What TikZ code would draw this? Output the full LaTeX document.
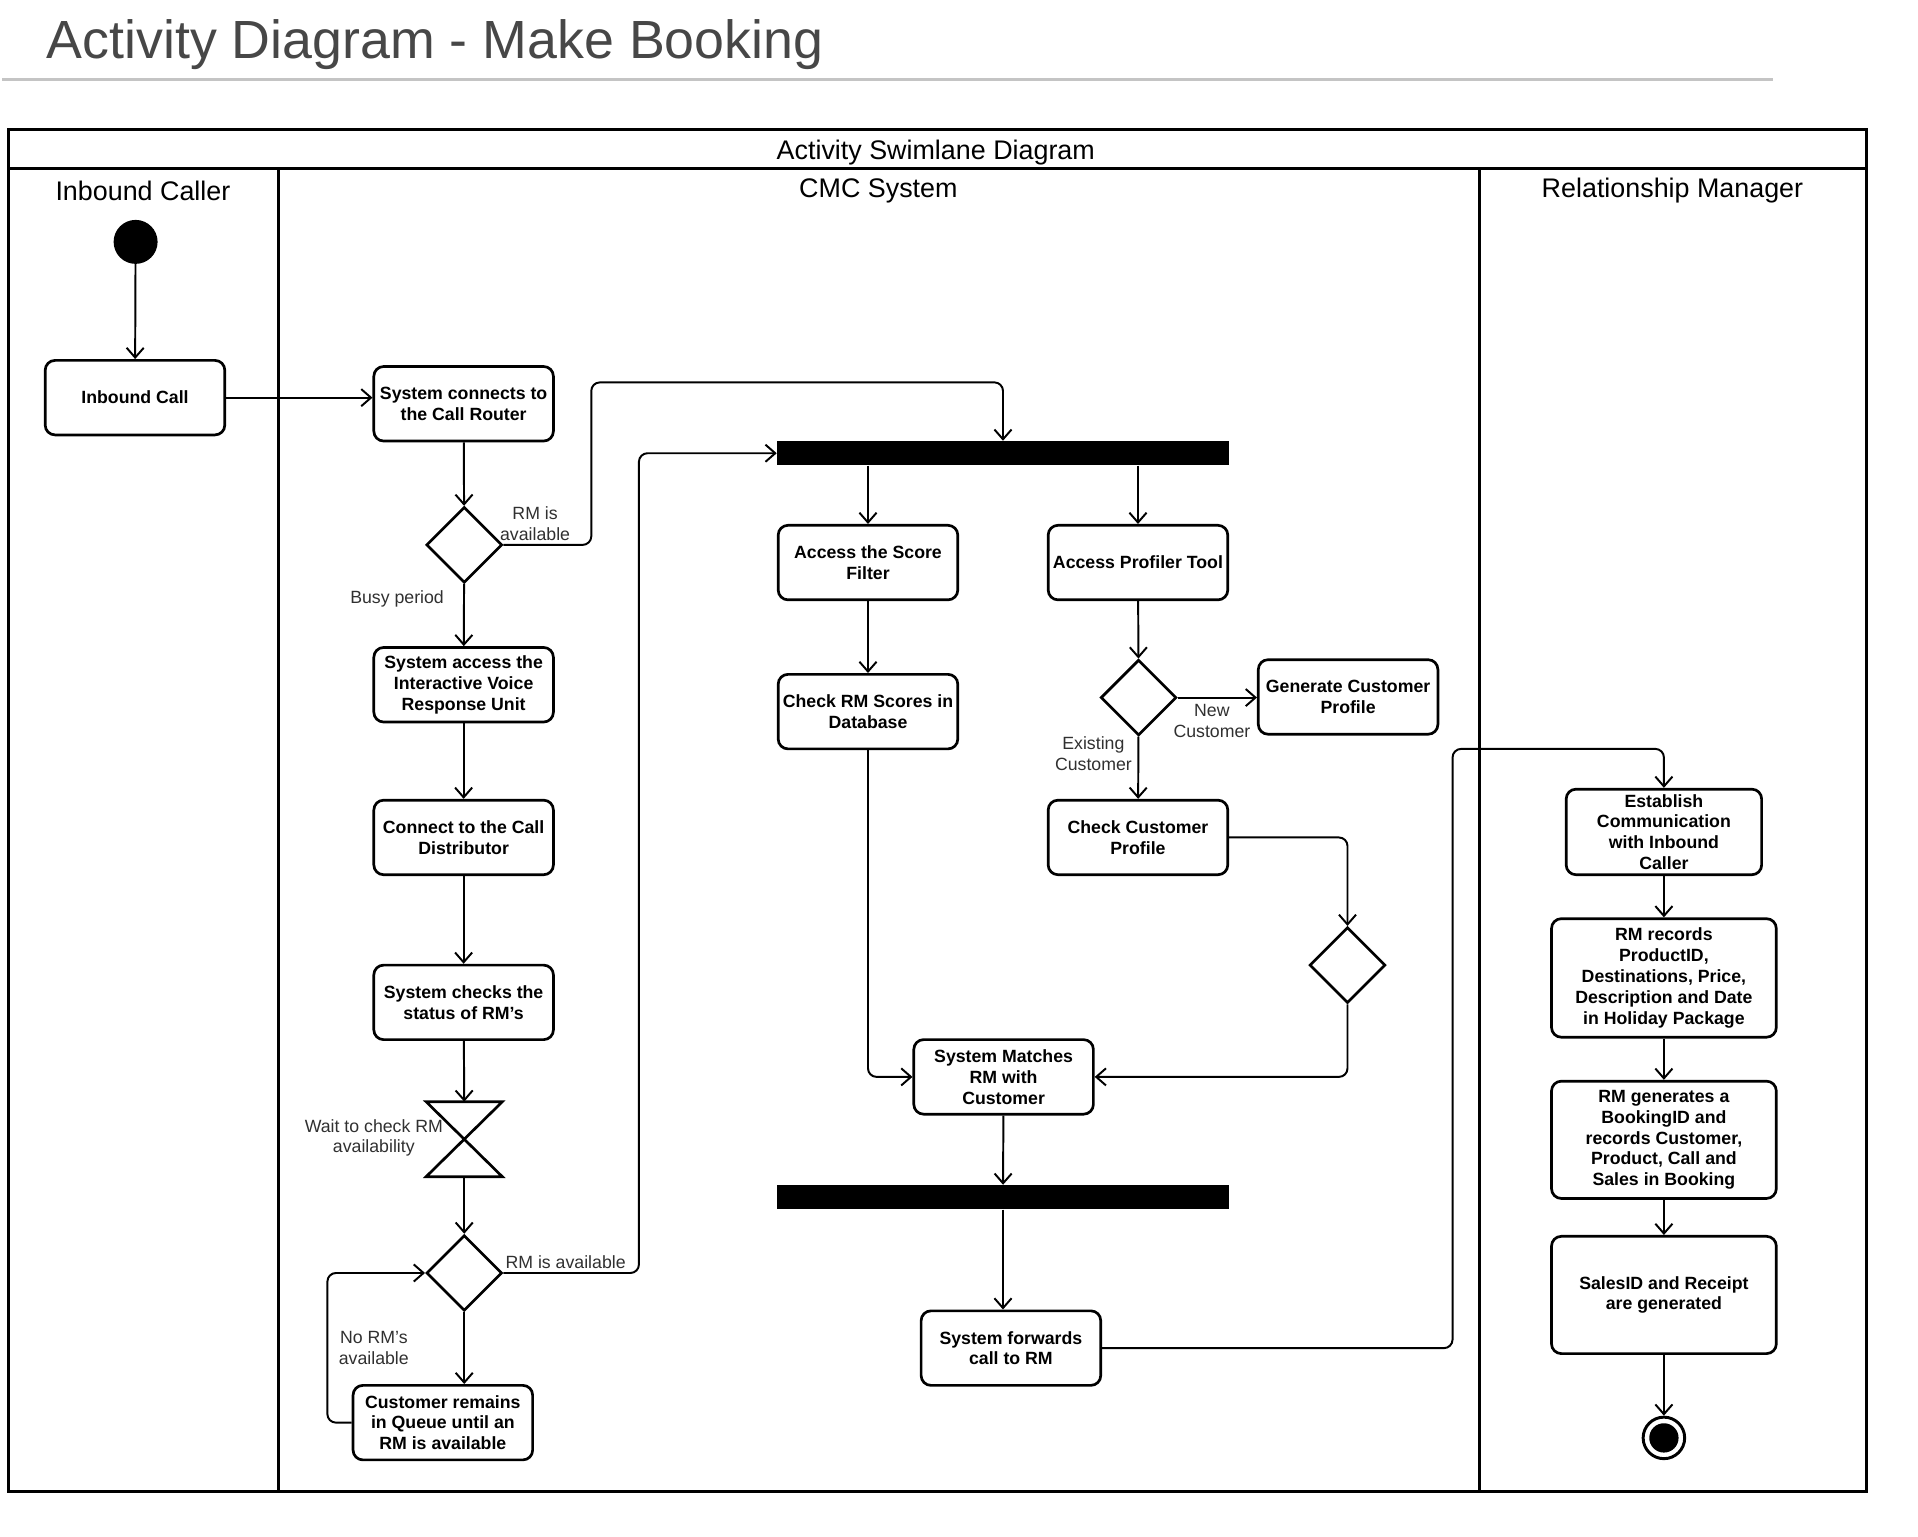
\documentclass[tikz,border=0pt]{standalone}
\usepackage{fontspec}
\setmainfont{Liberation Sans}
\usetikzlibrary{arrows.meta,shapes.geometric}
\newcommand\boxfnt{\fontsize{14.5}{17}\selectfont\bfseries}
\newcommand\lblfnt{\fontsize{14.5}{17}\selectfont}
\newcommand\hdrfnt{\fontsize{22}{26}\selectfont}
\definecolor{titlegray}{HTML}{474747}
\definecolor{rulegray}{HTML}{C4C4C4}
\definecolor{lblgray}{HTML}{303030}
\begin{document}
\begin{tikzpicture}[x=1pt,y=-1pt,
  actbox/.style={draw, line width=2.2pt, rounded corners=8pt, font=\boxfnt, align=center, inner sep=0pt, fill=white},
  decis/.style={draw, diamond, line width=2.2pt, minimum width=62pt, minimum height=62pt, inner sep=0pt},
  syncbar/.style={fill=black, draw=none, minimum width=370pt, minimum height=20pt, inner sep=0pt},
  conn/.style={draw, line width=1.6pt, rounded corners=7pt, -{Straight Barb[length=8pt,width=14pt]}},
  lbl/.style={font=\lblfnt, text=lblgray, align=center, inner sep=0pt},
  hdr/.style={font=\hdrfnt, inner sep=0pt},
  frame/.style={line width=2.2pt}
]
\useasboundingbox (0,0) rectangle (1570,1258);

% title
\node[anchor=base west, font=\fontsize{44}{50}\selectfont, text=titlegray, inner sep=0pt] (title) at (38,47.5) {Activity Diagram - Make Booking};
\draw[rulegray, line width=2.5pt] (2,65) -- (1451,65);

% swimlane frame
\draw[frame] (7,106) rectangle (1528,1221);
\draw[frame] (7,138) -- (1528,138);
\draw[frame] (228,138) -- (228,1221);
\draw[frame] (1211,138) -- (1211,1221);
\node[hdr] (hmain) at (766,125) {Activity Swimlane Diagram};
\node[hdr] (hic) at (117,156) {Inbound Caller};
\node[hdr] (hcmc) at (719,156) {CMC System};
\node[hdr] (hrm) at (1369,156) {Relationship Manager};

% Inbound caller lane
\node[circle, fill=black, minimum size=36pt, inner sep=0pt] (start) at (111,198) {};
\node[actbox, minimum width=147pt, minimum height=61pt] (inbound) at (110.5,325.5) {Inbound Call};

% CMC lane left column
\node[actbox, minimum width=147pt, minimum height=61pt] (router) at (379.5,330.5) {System connects to\\the Call Router};
\node[decis] (d1) at (380,446) {};
\node[actbox, minimum width=147pt, minimum height=61pt] (ivr) at (379.5,560.5) {System access the\\Interactive Voice\\Response Unit};
\node[actbox, minimum width=147pt, minimum height=61pt] (dist) at (379.5,685.5) {Connect to the Call\\Distributor};
\node[actbox, minimum width=147pt, minimum height=61pt] (status) at (379.5,820.5) {System checks the\\status of RM's};
\node[minimum width=62pt, minimum height=61pt, inner sep=0pt] (hg) at (380,932.5) {};
\draw[line width=2.2pt, line join=miter] (hg.north west) -- (hg.north east) -- (hg.south west) -- (hg.south east) -- cycle;
\node[decis] (d2) at (380,1042) {};
\node[actbox, minimum width=147pt, minimum height=61pt] (queue) at (362.5,1164.5) {Customer remains\\in Queue until an\\RM is available};

% CMC lane middle
\node[syncbar] (bar1) at (821,371) {};
\node[actbox, minimum width=147pt, minimum height=61pt] (score) at (710.5,460.5) {Access the Score\\Filter};
\node[actbox, minimum width=147pt, minimum height=61pt] (profiler) at (931.5,460.5) {Access Profiler Tool};
\node[actbox, minimum width=147pt, minimum height=61pt] (rmscores) at (710.5,582.5) {Check RM Scores in\\Database};
\node[decis] (d3) at (932,571) {};
\node[actbox, minimum width=147pt, minimum height=61pt] (genprof) at (1103.5,570.5) {Generate Customer\\Profile};
\node[actbox, minimum width=147pt, minimum height=61pt] (ccp) at (931.5,685.5) {Check Customer\\Profile};
\node[decis] (d4) at (1103,790) {};
\node[actbox, minimum width=147pt, minimum height=61pt] (match) at (821.5,881.5) {System Matches\\RM with\\Customer};
\node[syncbar] (bar2) at (821,980) {};
\node[actbox, minimum width=147pt, minimum height=61pt] (fwd) at (827.5,1103.5) {System forwards\\call to RM};

% RM lane
\node[actbox, minimum width=160pt, minimum height=70pt] (est) at (1362,681) {Establish\\Communication\\with Inbound\\Caller};
\node[actbox, minimum width=184pt, minimum height=97pt] (rec) at (1362,800.5) {RM records\\ProductID,\\Destinations, Price,\\Description and Date\\in Holiday Package};
\node[actbox, minimum width=184pt, minimum height=96pt] (bkg) at (1362,933) {RM generates a\\BookingID and\\records Customer,\\Product, Call and\\Sales in Booking};
\node[actbox, minimum width=184pt, minimum height=96pt] (sales) at (1362,1060) {SalesID and Receipt\\are generated};
\node[circle, draw, line width=2.4pt, minimum size=34pt, inner sep=0pt] (endo) at (1362,1177) {};
\node[circle, fill=black, minimum size=24pt, inner sep=0pt] (endi) at (1362,1177) {};

% connectors
\draw[conn] (start) -- (inbound);
\draw[conn] (inbound.east) -- (inbound.east -| router.west);
\draw[conn] (router) -- (d1);
\draw[conn] (d1.east) -| (484,313) -| (bar1.north);
\draw[conn] (d1) -- (ivr);
\draw[conn] (ivr) -- (dist);
\draw[conn] (dist) -- (status);
\draw[conn] (status) -- (hg.north);
\draw[conn] (hg.south) -- (d2);
\draw[conn] (d2.east) -| (523,371) -- (bar1.west);
\draw[conn] (d2.south) -- (d2.south |- queue.north);
\draw[conn] (queue.west) -| (268,1042) -- (d2.west);
\draw[conn] (score.north |- bar1.south) -- (score.north);
\draw[conn] (profiler.north |- bar1.south) -- (profiler.north);
\draw[conn] (score) -- (rmscores);
\draw[conn] (rmscores.south) |- (match.west);
\draw[conn] (profiler) -- (d3);
\draw[conn] (d3.east) -- (d3.east -| genprof.west);
\draw[conn] (d3) -- (ccp);
\draw[conn] (ccp.east) -| (d4.north);
\draw[conn] (d4.south) |- (match.east);
\draw[conn] (match) -- (bar2);
\draw[conn] (bar2.south) -- (bar2.south |- fwd.north);
\draw[conn] (fwd.east) -| (1189,613) -| (est.north);
\draw[conn] (est) -- (rec);
\draw[conn] (rec) -- (bkg);
\draw[conn] (bkg) -- (sales);
\draw[conn] (sales) -- (endo);

% labels
\node[lbl] (l1) at (438,428.5) {RM is\\available};
\node[lbl] (l2) at (325,490) {Busy period};
\node[lbl] (l3) at (306,931.5) {Wait to check RM\\availability};
\node[lbl] (l4) at (463,1033) {RM is available};
\node[lbl] (l5) at (306,1103.5) {No RM's\\available};
\node[lbl] (l6) at (992,590) {New\\Customer};
\node[lbl] (l7) at (895,617) {Existing\\Customer};
\end{tikzpicture}
\end{document}
